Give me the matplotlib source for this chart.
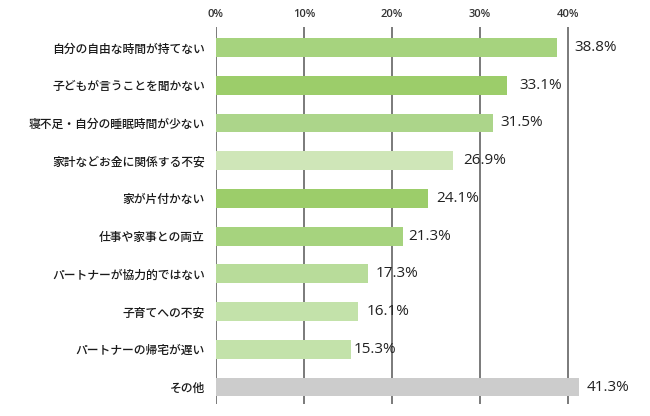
import matplotlib
matplotlib.use('Agg')
import matplotlib.pyplot as plt

categories = ['自分の自由な時間が持てない', '子どもが言うことを聞かない',
              '寝不足・自分の睡眠時間が少ない', '家計などお金に関係する不安',
              '家が片付かない', '仕事や家事との両立',
              'パートナーが協力的ではない', '子育てへの不安',
              'パートナーの帰宅が遅い', 'その他']
values = [38.8, 33.1, 31.5, 26.9, 24.1, 21.3, 17.3, 16.1, 15.3, 41.3]
colors = ['#a6d37e', '#9ccd6a', '#acd58a', '#cfe6b8', '#9ccd6a',
          '#a6d37e', '#b8dc9a', '#c3e2aa', '#c3e2aa', '#cccccc']
ticks = [0, 10, 20, 30, 40]

# gap (px) between bar end and its value label, as in the original
label_gap = [17, 12, 7, 11, 8, 5, 7, 9, 3, 7]

fig = plt.figure(figsize=(6.5, 4.16), dpi=100)
ax = fig.add_axes([216 / 650, 1 - 404 / 416, 434 / 650, 377 / 416])

ypos = list(range(len(categories)))
ax.barh(ypos, values, height=0.5, color=colors, zorder=3)

for y, v, g in zip(ypos, values, label_gap):
    ax.annotate(f'{v}%', (v, y), xytext=(g * 0.72, 0),
                textcoords='offset points',
                va='center', ha='left', fontsize=11, color='#222222',
                family=['Open Sans', 'DejaVu Sans'], zorder=4)

ax.set_xlim(0, 434 / 8.8)
ax.set_ylim(9.45, -0.543)

ax.xaxis.tick_top()
ax.set_xticks(ticks)
ax.set_xticklabels([f'{t}%' for t in ticks], fontsize=8, color='#333333',
                   family=['Open Sans', 'DejaVu Sans'], weight='semibold')
ax.tick_params(axis='x', length=0, pad=5)
ax.set_yticks(ypos)
ax.set_yticklabels(categories, fontsize=8.5, color='#1a1a1a',
                   family=['Noto Sans CJK JP', 'DejaVu Sans'], weight='medium')
ax.tick_params(axis='y', length=0, pad=8)

for t in ticks:
    ax.axvline(t, color='#707070', lw=1.3, zorder=2)

for sp in ax.spines.values():
    sp.set_visible(False)

fig.savefig('out.png', dpi=100)
